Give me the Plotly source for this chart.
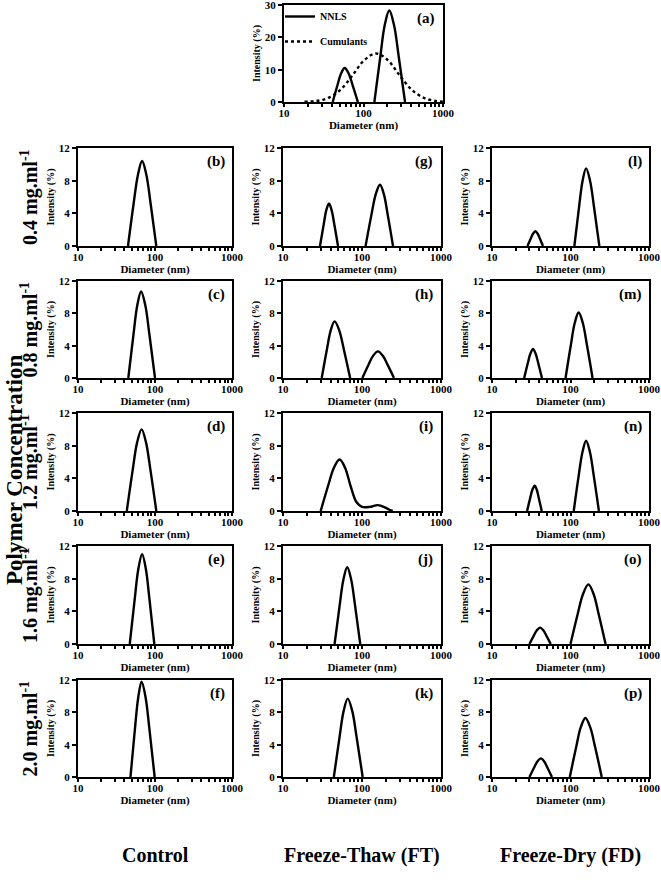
import plotly.graph_objects as go

# ---------------- data ----------------
# panel (a): NNLS vs Cumulants  (None separates the two NNLS peaks)
a_nnls_diam = [41, 47.1, 52.2, 58, 65.0, 72.9, 85, None, 137, 163, 185, 211, 242, 277, 333]
a_nnls_int = [0, 5.25, 8.8, 10.5, 8.8, 5.25, 0, None, 0, 14.15, 23.8, 28.3, 23.8, 14.15, 0]
a_cum_diam = [18.1, 25.6, 36.1, 51.1, 72.1, 101.9, 143.9, 203.2, 287.1, 405.5, 572.8, 809.1, 1143]
a_cum_int = [0.06, 0.32, 1.27, 3.74, 8.1, 12.9, 15.0, 12.9, 8.1, 3.74, 1.27, 0.32, 0.06]

# Control column
b_diam = [44.6, 52.8, 60.0, 68, 77.3, 87.7, 104]
b_int = [0, 5.2, 8.7, 10.4, 8.7, 5.2, 0]
c_diam = [45, 52.5, 58.9, 66, 74.8, 84.7, 100]
c_int = [0, 5.35, 9.0, 10.7, 9.0, 5.35, 0]
d_diam = [43, 51.3, 58.6, 67, 76.4, 87.3, 104]
d_int = [0, 5.0, 8.4, 10.0, 8.4, 5.0, 0]
e_diam = [47, 54.5, 60.9, 68, 75.9, 84.7, 98]
e_int = [0, 5.5, 9.24, 11.0, 9.24, 5.5, 0]
f_diam = [48, 54.8, 60.7, 67, 75.3, 84.7, 99]
f_int = [0, 5.9, 9.9, 11.8, 9.9, 5.9, 0]

# Freeze-Thaw column
g_diam = [29.4, 32.7, 35.3, 38.2, 41.3, 44.7, 49.7, None, 111, 131.2, 148.9, 169, 189.7, 212.3, 247]
g_int = [0, 2.6, 4.37, 5.2, 4.37, 2.6, 0, None, 0, 3.75, 6.3, 7.5, 6.3, 3.75, 0]
h_diam = [30.9, 35.9, 40.2, 45, 51.5, 59.0, 70.8, None, 101, 121, 138.7, 159, 182.8, 210.4, 254]
h_int = [0, 3.5, 5.9, 7.0, 5.9, 3.5, 0, None, 0, 1.65, 2.77, 3.3, 2.77, 1.65, 0]
i_diam = [30, 37.4, 44.1, 52, 61, 72, 85, 100, 125, 158, 195, 222, 245]
i_int = [0, 3.15, 5.3, 6.3, 5.3, 3.0, 1.1, 0.5, 0.5, 0.72, 0.45, 0.15, 0]
j_diam = [45, 52.1, 58.2, 65, 72.9, 81.7, 95]
j_int = [0, 4.7, 7.9, 9.4, 7.9, 4.7, 0]
k_diam = [44, 51.8, 58.5, 66, 75.3, 85.7, 102]
k_int = [0, 4.85, 8.15, 9.7, 8.15, 4.85, 0]

# Freeze-Dry column
l_diam = [28.3, 31.1, 33.3, 35.7, 38.2, 40.8, 44.6, None, 112, 128.5, 142.6, 158, 177.4, 199.5, 233]
l_int = [0, 0.9, 1.5, 1.8, 1.5, 0.9, 0, None, 0, 4.75, 8.0, 9.5, 8.0, 4.75, 0]
m_diam = [25.7, 28.5, 30.8, 33.3, 36.0, 38.9, 43.3, None, 86.5, 100.9, 113.2, 127, 143.5, 162.2, 191]
m_int = [0, 1.8, 3.0, 3.6, 3.0, 1.8, 0, None, 0, 4.05, 6.8, 8.1, 6.8, 4.05, 0]
n_diam = [28, 30.6, 32.7, 35, 37.2, 39.5, 43, None, 110, 127, 141.9, 158, 177, 198, 230]
n_int = [0, 1.55, 2.6, 3.1, 2.6, 1.55, 0, None, 0, 4.3, 7.2, 8.6, 7.2, 4.3, 0]
o_diam = [30, 34.0, 37.3, 41, 45.0, 49.4, 56, None, 100, 123.3, 144.5, 169, 196.8, 228.6, 280]
o_int = [0, 1.0, 1.68, 2.0, 1.68, 1.0, 0, None, 0, 3.65, 6.13, 7.3, 6.13, 3.65, 0]
p_diam = [30, 34.3, 37.9, 42, 46.2, 50.9, 58, None, 98, 117.8, 134.9, 155, 178.6, 206.5, 250]
p_int = [0, 1.15, 1.93, 2.3, 1.93, 1.15, 0, None, 0, 3.65, 6.13, 7.3, 6.13, 3.65, 0]

x_tick_vals = [10, 100, 1000]
x_tick_text = ["10", "100", "1000"]
x_minor_vals = [20, 30, 40, 50, 60, 70, 80, 90, 200, 300, 400, 500, 600, 700, 800, 900]
y_tick_vals_a = [0, 10, 20, 30]
y_tick_vals = [0, 4, 8, 12]
row_labels = ["0.4 mg.ml<sup>-1</sup>", "0.8 mg.ml<sup>-1</sup>", "1.2 mg.ml<sup>-1</sup>",
              "1.6 mg.ml<sup>-1</sup>", "2.0 mg.ml<sup>-1</sup>"]
col_labels = ["Control", "Freeze-Thaw (FT)", "Freeze-Dry (FD)"]
side_label = "Polymer Concentration"

columns = [
    [("b", b_diam, b_int), ("c", c_diam, c_int), ("d", d_diam, d_int), ("e", e_diam, e_int), ("f", f_diam, f_int)],
    [("g", g_diam, g_int), ("h", h_diam, h_int), ("i", i_diam, i_int), ("j", j_diam, j_int), ("k", k_diam, k_int)],
    [("l", l_diam, l_int), ("m", m_diam, m_int), ("n", n_diam, n_int), ("o", o_diam, o_int), ("p", p_diam, p_int)],
]

# ---------------- layout geometry ----------------
W, H = 661, 881
FONT = "Liberation Serif"
col_px = [(78, 232), (283, 441), (492, 649)]
row_px = [(148, 246), (281, 378), (413, 511), (546, 644), (680, 777)]
a_xpx, a_ypx = (284, 443), (5, 102)


def xdom(px):
    return [px[0] / W, px[1] / W]


def ydom(py):
    return [1 - py[1] / H, 1 - py[0] / H]


fig = go.Figure()
annotations = []
LINE_W = 2.4


def add_axes(n, xd, yd, yticks, label):
    sx = "" if n == 1 else str(n)
    xa = dict(domain=xd, anchor="y" + sx, type="log", range=[1, 3], automargin=False,
              tickvals=x_tick_vals, ticktext=x_tick_text,
              ticks="outside", ticklen=3, tickwidth=1.5, tickcolor="black",
              ticklabelstandoff=-3, ticklabeloverflow="allow",
              showline=True, linewidth=2, linecolor="black", mirror=True,
              showgrid=False, zeroline=False,
              tickfont=dict(family=FONT, size=11, color="black", weight="bold"),
              title=dict(text="Diameter (nm)", standoff=0,
                         font=dict(family=FONT, size=11, color="black", weight="bold")),
              minor=dict(tickvals=x_minor_vals, ticks="outside", ticklen=3,
                         tickwidth=1.5, tickcolor="black", showgrid=False))
    ya = dict(domain=yd, anchor="x" + sx, range=[yticks[0], yticks[-1]], automargin=False,
              tickvals=yticks, ticks="outside", ticklen=4, tickwidth=1.5, tickcolor="black",
              ticklabeloverflow="allow",
              showline=True, linewidth=2, linecolor="black", mirror=True,
              showgrid=False, zeroline=False,
              tickfont=dict(family=FONT, size=11, color="black", weight="bold"),
              title=dict(text="Intensity (%)", standoff=2,
                         font=dict(family=FONT, size=10, color="black", weight="bold")))
    fig.update_layout({"xaxis" + sx: xa, "yaxis" + sx: ya})
    annotations.append(dict(text="(" + label + ")", xref="x" + sx + " domain", yref="y" + sx + " domain",
                            x=0.965, y=0.97, xanchor="right", yanchor="top", showarrow=False,
                            font=dict(family=FONT, size=15, color="black", weight="bold")))
    return sx


# panel (a)
sx = add_axes(1, xdom(a_xpx), ydom(a_ypx), y_tick_vals_a, "a")
fig.add_trace(go.Scatter(x=a_nnls_diam, y=a_nnls_int, mode="lines", name="NNLS",
                         line=dict(color="black", width=LINE_W, shape="spline"),
                         xaxis="x", yaxis="y", legendgroup="g1", showlegend=True))
fig.add_trace(go.Scatter(x=a_cum_diam, y=a_cum_int, mode="lines", name="Cumulants",
                         line=dict(color="black", width=LINE_W, dash="dot", shape="spline"),
                         xaxis="x", yaxis="y", legendgroup="g2", showlegend=True))

n = 2
for ci, col in enumerate(columns):
    for ri, (lab, dx, iy) in enumerate(col):
        sx = add_axes(n, xdom(col_px[ci]), ydom(row_px[ri]), y_tick_vals, lab)
        fig.add_trace(go.Scatter(x=dx, y=iy, mode="lines", showlegend=False, connectgaps=False,
                                 line=dict(color="black", width=LINE_W, shape="spline"),
                                 xaxis="x" + sx, yaxis="y" + sx))
        n += 1

# row labels
for ri, txt in enumerate(row_labels):
    yc = (row_px[ri][0] + row_px[ri][1]) / 2
    annotations.append(dict(text=txt, xref="paper", yref="paper", x=29 / W, y=1 - yc / H,
                            textangle=-90, showarrow=False, xanchor="center", yanchor="middle",
                            font=dict(family=FONT, size=20, color="black", weight="bold")))
annotations.append(dict(text=side_label, xref="paper", yref="paper", x=14 / W, y=1 - 470 / H,
                        textangle=-90, showarrow=False, xanchor="center", yanchor="middle",
                        font=dict(family=FONT, size=23, color="black", weight="bold")))
for ci, txt in enumerate(col_labels):
    xc = (col_px[ci][0] + col_px[ci][1]) / 2
    annotations.append(dict(text=txt, xref="paper", yref="paper", x=xc / W, y=1 - 855 / H,
                            showarrow=False, xanchor="center", yanchor="middle",
                            font=dict(family=FONT, size=20, color="black", weight="bold")))

fig.update_layout(
    width=W, height=H, margin=dict(l=0, r=0, t=0, b=0, autoexpand=False),
    paper_bgcolor="white", plot_bgcolor="white",
    annotations=annotations,
    showlegend=True,
    legend=dict(x=280 / W, y=1 - 2 / H, xanchor="left", yanchor="top",
                bgcolor="rgba(0,0,0,0)", itemwidth=30, tracegroupgap=6,
                font=dict(family=FONT, size=10, color="black", weight="bold")),
)

fig.write_html("out.html", config={"displayModeBar": False},
               post_script="document.body.style.margin='0px';document.body.style.overflow='hidden';")
